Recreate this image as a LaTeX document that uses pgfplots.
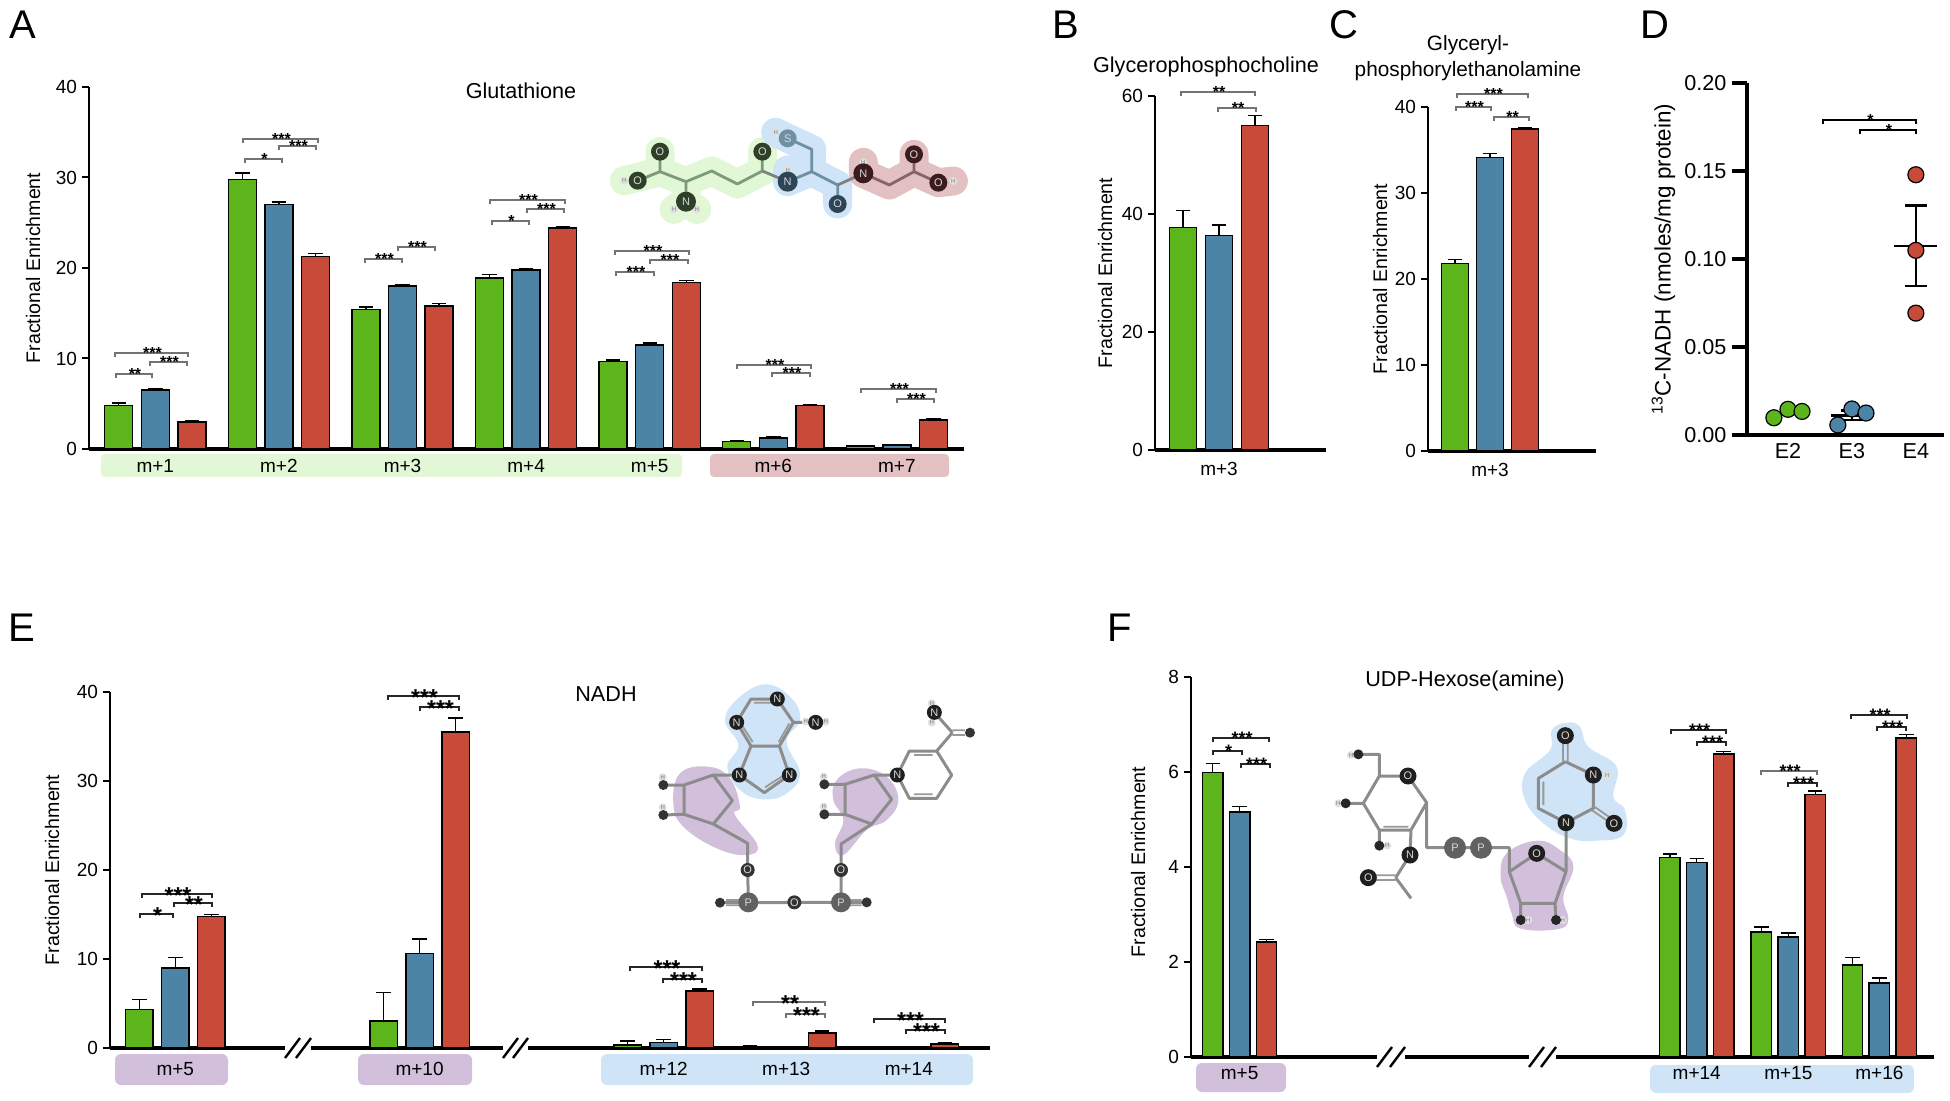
\documentclass[border=0pt]{standalone}
\usepackage{fontspec}
\setmainfont{Liberation Sans}
\usepackage{pgfplots}
\usepackage{pgfplotstable}
\pgfplotsset{compat=1.18}

\definecolor{cgreen}{HTML}{5DB51C}
\definecolor{cblue}{HTML}{4C84A6}
\definecolor{cred}{HTML}{C84A38}
\definecolor{hlgreen}{HTML}{E1F7D6}
\definecolor{hlred}{HTML}{E3C1C2}
\definecolor{hlblue}{HTML}{CFE4F7}
\definecolor{hlpurple}{HTML}{D1BFDC}
\definecolor{atgreen}{HTML}{2F4029}
\definecolor{atblue}{HTML}{2C4557}
\definecolor{atred}{HTML}{3A1C1E}
\definecolor{bdgreen}{HTML}{7C9A78}
\definecolor{bdblue}{HTML}{6F8FA3}
\definecolor{bdred}{HTML}{866468}

% one picture pixel is 0.5pt
\pgfplotsset{
  figpanel/.style n args={4}{% left, bottom, right, top in pixels
    scale only axis, anchor=south west,
    at={(#1*0.5pt,-#2*0.5pt)},
    width=#3*0.5pt-#1*0.5pt, height=#2*0.5pt-#4*0.5pt,
    xmin=#1, xmax=#3, ymin=0,
    axis x line=bottom, axis y line=left,
    axis line style={-},
    x axis line style={line width=1.7pt},
    y axis line style={line width=1.3pt},
    tick align=outside, major tick length=3.5pt,
    ytick style={black,line width=1pt},
    xtick style={draw=none},
    tick label style={font=\fontsize{9.5}{10}\selectfont,/pgf/number format/assume math mode=true},
    xticklabel style={yshift=2pt},
    yticklabel style={xshift=1pt},
    clip=false,
  },
  ylab/.style={every axis y label/.style={at={(axis description cs:0,0.5)},rotate=90,anchor=center,yshift={-(#1)*0.5pt},font=\fontsize{9.8}{11}\selectfont}},
  barstyle/.style={fill=#1,draw=black,line width=0.7pt,
    error bars/.cd,y dir=plus,y explicit,
    error bar style={black,line width=0.7pt},
    error mark options={black,line width=0.7pt,mark size=3.6pt,rotate=90}},
}

\newcommand{\threeseries}[1]{%
  \addplot[barstyle=cgreen] table[x=x,y=g,y error=ge]{#1};
  \addplot[barstyle=cblue] table[x=x,y=b,y error=be]{#1};
  \addplot[barstyle=cred] table[x=x,y=r,y error=re]{#1};
}

% significance bracket: x1, x2, y, stars
\def\starsize{8}
\newcommand{\sig}[5][sigthin]{%
  \draw[#1] (#2,#4+4) -- (#2,#4) -- (#3,#4) -- (#3,#4+4);
  \pgfmathsetmacro{\starbase}{#4+1.16*\starsize-4}
  \node[anchor=base,inner sep=0pt,font=\fontsize{\starsize}{\starsize}\selectfont\bfseries] at ({(#2+#3)/2+1},\starbase) {#5};
}
% white gap with two slashes on a broken x axis
\newcommand{\axbreak}[3]{%
  \fill[white] (#1,#3-3) rectangle (#2,#3+3);
  \draw[black,line width=1.2pt] (#1,#3+10) -- (#1+15,#3-10);
  \draw[black,line width=1.2pt] (#2-15,#3+10) -- (#2,#3-10);
}
\newcommand{\latom}[5][15]{\node[circle,fill=#5,inner sep=0pt,minimum size=#1*0.5pt,text=white!85!black,font=\fontsize{5.5}{6}\selectfont] at (#2,#3) {#4};}
\newcommand{\hyd}[2]{\node[circle,fill=black!12,inner sep=0pt,minimum size=4pt,text=black!50,font=\fontsize{3}{3}\selectfont] at (#1,#2) {H};}

% panel data, x is the pixel position of the group
\pgfplotstableread{
x g ge b be r re
155.3 4.8 0.3 6.5 0.2 3.0 0.1
278.9 29.8 0.7 27.0 0.3 21.3 0.3
402.5 15.4 0.3 18.0 0.15 15.8 0.25
526.1 18.9 0.35 19.8 0.15 24.4 0.15
649.7 9.7 0.15 11.5 0.2 18.4 0.25
773.3 0.85 0.1 1.2 0.15 4.8 0.15
896.9 0.35 0.05 0.45 0.08 3.2 0.15
}\tabA
\pgfplotstableread{
x g ge b be r re
1219 37.7 2.85 36.4 1.75 55.0 1.65
}\tabB
\pgfplotstableread{
x g ge b be r re
1490 21.8 0.45 34.1 0.5 37.45 0.1
}\tabC
\pgfplotstableread{
x g ge b be r re
175.3 4.3 1.15 9.0 1.2 14.75 0.25
419.6 3.05 3.2 10.6 1.65 35.5 1.6
663.6 0.35 0.45 0.65 0.3 6.4 0.25
786.2 0.15 0.1 0.1 0.08 1.7 0.2
908.8 0.03 0.02 0.03 0.02 0.45 0.1
}\tabE
\pgfplotstableread{
x g ge b be r re
1239.6 5.99 0.19 5.16 0.11 2.42 0.06
1696.7 4.2 0.07 4.09 0.09 6.38 0.05
1788.3 2.63 0.11 2.53 0.08 5.53 0.07
1879.4 1.94 0.16 1.56 0.1 6.72 0.07
}\tabF
\pgfplotstableread{
x y e
1 0.0112 0.0028
2 0.1076 0.0228
}\tabDmean

\begin{document}
\begin{tikzpicture}[x=0.5pt,y=-0.5pt,
  sigthin/.style={black!55,line width=0.6pt},
  sigdark/.style={black!85,line width=0.9pt},
  sigthick/.style={black,line width=1.3pt},
  bond/.style={black!45,line width=1.5pt,line join=round},
  dbl/.style={black!40,line width=0.9pt},
  title/.style={font=\fontsize{10.8}{13}\selectfont,align=center},
  letter/.style={font=\fontsize{20}{22}\selectfont,anchor=base west,inner sep=0pt}]
\useasboundingbox (0,0) rectangle (1950,1101);

% ---- group backgrounds below the axes
\fill[hlgreen,rounded corners=2pt] (101,454) rectangle (682,477);
\fill[hlred,rounded corners=2pt] (710,454) rectangle (949,477);
\fill[hlpurple,rounded corners=3pt] (115,1054) rectangle (228,1085);
\fill[hlpurple,rounded corners=3pt] (358,1054) rectangle (472,1085);
\fill[hlblue,rounded corners=3pt] (601,1054) rectangle (973,1085);
\fill[hlpurple,rounded corners=3pt] (1196,1063) rectangle (1286,1092);
\fill[hlblue,rounded corners=3pt] (1650,1065) rectangle (1914,1093);

% ---- glutathione structure
\begin{scope}[shift={(600,110)},x=0.16667pt,y=-0.16667pt]
  \begin{scope}[line width=14.5pt,line cap=round,line join=round]
    \draw[hlgreen] (73,212)--(180,185)--(258,215)--(335,183)--(412,222)--(487,183)--(487,125);
    \draw[hlgreen] (180,185)--(180,125) (258,215)--(258,275) (222,298)--(258,275)--(290,298);
    \draw[hlblue] (563,180)--(563,215)--(635,185)--(635,118)--(563,85)--(527,67);
    \draw[hlblue] (635,185)--(713,225)--(713,282);
    \draw[hlred] (790,157)--(790,190)--(868,225)--(942,185)--(942,133);
    \draw[hlred] (942,185)--(1015,218)--(1060,213);
  \end{scope}
  \begin{scope}[line width=1.4pt,line join=round]
    \draw[bdgreen] (113,212)--(180,185)--(258,215)--(335,183)--(412,222)--(487,183)--(487,125)
      (180,185)--(180,125) (258,215)--(258,275);
    \draw[gray] (487,183)--(563,215);
    \draw[bdblue] (563,215)--(635,185)--(635,118)--(563,85) (635,185)--(713,225)--(713,282);
    \draw[gray] (713,225)--(790,190);
    \draw[bdred] (790,190)--(868,225)--(942,185)--(942,133) (942,185)--(1015,218);
  \end{scope}
  \hyd{73}{212}\hyd{222}{298}\hyd{290}{298}\hyd{563}{180}\hyd{527}{67}\hyd{790}{157}\hyd{1060}{213}
  \latom[18]{113}{212}{O}{atgreen}\latom[18]{180}{125}{O}{atgreen}
  \latom[20]{258}{275}{N}{atgreen}\latom[18]{487}{125}{O}{atgreen}
  \latom[20]{563}{215}{N}{atblue}\latom[18]{713}{282}{O}{atblue}
  \latom[18]{563}{85}{S}{bdblue}
  \latom[20]{790}{190}{N}{atred}\latom[18]{942}{133}{O}{atred}
  \latom[18]{1015}{218}{O}{atred}
\end{scope}

% ---- NADH structure
\begin{scope}[shift={(640,670)},x=0.16667pt,y=-0.16667pt]
  \fill[hlblue] plot[smooth cycle,tension=0.7] coordinates {(380,43)(455,85)(480,150)(440,215)(480,310)(440,370)(370,388)(300,360)(262,290)(295,225)(255,150)(300,80)};
  \fill[hlpurple] plot[smooth cycle,tension=0.7] coordinates {(205,290)(270,325)(300,410)(285,435)(352,525)(320,555)(230,535)(130,470)(100,400)(120,310)};
  \fill[hlpurple] plot[smooth cycle,tension=0.7] coordinates {(660,295)(740,320)(775,390)(740,450)(680,480)(610,555)(585,520)(610,450)(580,390)(590,330)};
  \draw[bond] (412,87)--(333,87)--(290,157)--(333,228)--(418,228)--(460,157)--(412,87)
    (460,157)--(527,157) (333,228)--(298,315)--(373,368)--(448,315)--(418,228);
  \draw[bond] (298,315)--(220,315)--(132,345)--(132,433)--(220,462)--(277,392)--(220,315)
    (132,345)--(70,345) (132,433)--(70,435) (220,462)--(323,520)--(323,600)--(325,697)
    (240,698)--(603,697)--(680,697) (603,697)--(603,522)--(695,462)--(615,433)--(615,343)--(703,315)--(755,388)--(695,462)
    (615,343)--(553,343) (615,433)--(553,433) (703,315)--(772,315)--(808,243)--(890,243)--(935,315)--(890,385)--(808,385)--(772,315)
    (890,243)--(937,188) (937,188)--(883,127);
  \draw[dbl] (342,98)--(400,98) (302,160)--(338,216) (416,216)--(448,160) (375,352)--(428,318)
    (822,255)--(878,255) (822,373)--(878,373) (937,181)--(975,181) (937,195)--(975,195)
    (258,690)--(300,690) (258,706)--(300,706) (628,690)--(665,690) (628,706)--(665,706);
  \hyd{497}{155}\hyd{557}{155}\hyd{68}{322}\hyd{68}{412}\hyd{551}{320}\hyd{551}{410}\hyd{875}{100}\hyd{875}{158}
  \foreach \p/\q in {412/87,290/157,527/157,298/315,448/315,772/315,883/127} {\latom{\p}{\q}{N}{black!88}}
  \foreach \p/\q in {323/600,603/600,463/697} {\latom[14]{\p}{\q}{O}{black!80}}
  \foreach \p/\q in {70/345,70/435,553/343,553/433,240/698,680/697,990/188} {\latom[10]{\p}{\q}{}{black!80}}
  \foreach \p/\q in {325/697,603/697} {\latom[20]{\p}{\q}{P}{black!62}}
\end{scope}

% ---- UDP-hexose structure
\begin{scope}[shift={(1330,710)},x=0.16667pt,y=-0.16667pt]
  \fill[hlblue] plot[smooth cycle,tension=0.7] coordinates {(710,38)(750,50)(775,110)(860,170)(850,260)(885,300)(880,375)(800,392)(720,385)(640,340)(585,270)(585,190)(660,120)(665,60)};
  \fill[hlpurple] plot[smooth cycle,tension=0.7] coordinates {(620,392)(690,420)(730,470)(700,560)(715,630)(680,658)(570,655)(545,610)(530,560)(512,500)(530,430)};
  \draw[bond] (234,198)--(290,278)--(243,360)--(148,360)--(100,280)--(148,198)--(234,198)
    (148,198)--(148,133)--(85,133) (100,280)--(47,280) (148,360)--(148,407) (243,360)--(240,435)--(197,503)
    (197,503)--(243,565) (290,278)--(290,413)--(538,413)--(538,485)--(620,430)--(708,485)--(675,580)--(572,580)--(538,485)
    (572,580)--(572,630) (675,580)--(678,630) (708,485)--(708,338)--(625,295)--(625,205)--(706,155)
    (706,155)--(790,195)--(790,295)--(708,338);
  \draw[dbl] (160,350)--(235,350) (640,215)--(640,285) (115,496)--(197,496) (115,510)--(197,510)
    (699,155)--(699,77) (713,155)--(713,77) (790,288)--(855,333) (785,300)--(850,345);
  \hyd{63}{135}\hyd{25}{280}\hyd{172}{407}\hyd{595}{630}\hyd{698}{630}\hyd{832}{195}
  \foreach \p/\q in {240/435,708/338,790/195} {\latom[17]{\p}{\q}{N}{black!88}}
  \foreach \p/\q in {234/198,115/503,620/430,706/77,852/340} {\latom[17]{\p}{\q}{O}{black!88}}
  \foreach \p/\q in {85/133,47/280,148/407,572/630,678/630} {\latom[10]{\p}{\q}{}{black!85}}
  \foreach \p/\q in {375/413,453/413} {\latom[22]{\p}{\q}{P}{black!62}}
\end{scope}

% ---- A
\begin{axis}[figpanel={89}{449}{964}{87},ymax=40,ytick={0,10,20,30,40},
  ybar=4.3pt,bar width=14pt,
  xtick={155.3,278.9,402.5,526.1,649.7,773.3,896.9},
  xticklabels={m+1,m+2,m+3,m+4,m+5,m+6,m+7},
  ylab=-56,ylabel={Fractional Enrichment}]
  \threeseries{\tabA}
\end{axis}
% ---- B
\begin{axis}[figpanel={1155}{450}{1326}{96},ymax=60,ytick={0,20,40,60},
  ybar=4.5pt,bar width=13.5pt,
  xtick={1219},xticklabels={m+3},
  xticklabel style={yshift=-0.9pt},
  ylab=-50,ylabel={Fractional Enrichment}]
  \threeseries{\tabB}
\end{axis}
% ---- C
\begin{axis}[figpanel={1428}{451}{1596}{107},ymax=40,ytick={0,10,20,30,40},
  ybar=4.2pt,bar width=13.3pt,
  xtick={1490},xticklabels={m+3},
  xticklabel style={yshift=-0.9pt},
  ylab=-48,ylabel={Fractional Enrichment}]
  \threeseries{\tabC}
\end{axis}
% ---- D
\begin{axis}[figpanel={1746.5}{435}{1944}{83.3},xmin=-0.648,xmax=2.44,ymax=0.2,
  ytick={0,0.05,0.10,0.15,0.20},
  xtick={0,1,2},xticklabels={E2,E3,E4},
  x axis line style={line width=2pt},y axis line style={line width=2pt},
  major tick length=7.5pt,ytick style={black,line width=2pt},
  tick label style={font=\fontsize{10.8}{12}\selectfont,/pgf/number format/assume math mode=true,
    /pgf/number format/fixed,/pgf/number format/fixed zerofill,/pgf/number format/precision=2},
  xticklabel style={yshift=4.6pt},
  ylab=-83,ylabel={\fontsize{11.2}{13}\selectfont\textsuperscript{13}C-NADH (nmoles/mg protein)}]
  \addplot[only marks,mark=-,mark size=10.7pt,black,mark options={line width=1.2pt},
    error bars/.cd,y dir=both,y explicit,error bar style={black,line width=1.2pt},
    error mark options={black,line width=1.2pt,mark size=5.5pt,rotate=90}]
    table[x=x,y=y,y error=e]{\tabDmean};
  \addplot[only marks,mark=*,mark size=4pt,mark options={fill=cgreen,draw=black,line width=0.6pt}]
    coordinates {(-0.22,0.0098)(0,0.0146)(0.22,0.0134)};
  \addplot[only marks,mark=*,mark size=4pt,mark options={fill=cblue,draw=black,line width=0.6pt}]
    coordinates {(0.78,0.0057)(1,0.0148)(1.22,0.0125)};
  \addplot[only marks,mark=*,mark size=4pt,mark options={fill=cred,draw=black,line width=0.6pt}]
    coordinates {(2,0.148)(2,0.105)(2,0.0693)};
\end{axis}
% ---- E
\begin{axis}[figpanel={110}{1048}{990}{692},ymax=40,ytick={0,10,20,30,40},
  ybar=4.25pt,bar width=13.75pt,
  xtick={175.3,419.6,663.6,786.2,908.8},xticklabels={m+5,m+10,m+12,m+13,m+14},
  xticklabel style={yshift=-2.3pt},
  ylab=-58,ylabel={Fractional Enrichment}]
  \threeseries{\tabE}
\end{axis}
% ---- F
\begin{axis}[figpanel={1191}{1057}{1934}{677},ymax=8,ytick={0,2,4,6,8},
  ybar=3.2pt,bar width=10.25pt,
  xtick={1239.6,1696.7,1788.3,1879.4},xticklabels={m+5,m+14,m+15,m+16},
  xticklabel style={yshift=0.5pt},
  ylab=-53,ylabel={Fractional Enrichment},
  ylabel style={xshift=2.5pt}]
  \threeseries{\tabF}
\end{axis}

% ---- axis breaks
\axbreak{285}{311}{1048}
\axbreak{503}{528}{1048}
\axbreak{1377}{1405}{1057}
\axbreak{1529}{1556}{1057}

% ---- brackets
\sig{115}{188}{353}{***}\sig{150}{187}{362}{***}\sig{116}{152}{374}{**}
\sig{243}{318}{139}{***}\sig{279}{316}{146}{***}\sig{245}{282}{159}{*}
\sig{365}{402}{259}{***}\sig{398}{435}{247}{***}
\sig{490}{565}{200}{***}\sig{527}{564}{209}{***}\sig{492}{529}{221}{*}
\sig{615}{689}{251}{***}\sig{650}{688}{260}{***}\sig{616}{654}{272}{***}
\sig{737}{811}{365}{***}\sig{772}{810}{373}{***}
\sig{861}{936}{389}{***}\sig{897}{934}{399}{***}
\sig{1181}{1255}{92}{**}\sig{1218}{1256}{108}{**}
\sig{1457}{1528}{94}{***}\sig{1456}{1491}{107}{***}\sig{1494}{1529}{117}{**}
\sig[sigthick]{1823}{1916}{120}{*}\sig[sigthick]{1860}{1916}{130}{*}
\def\starsize{11.5}
\sig[sigdark]{142}{212}{894}{***}\sig[sigdark]{174}{212}{903}{**}\sig[sigdark]{140}{173}{914}{*}
\sig[sigdark]{388}{459}{696}{***}\sig[sigdark]{420}{459}{707}{***}
\sig[sigdark]{630}{702}{967}{***}\sig[sigdark]{663}{702}{979}{***}
\sig{753}{825}{1002}{**}\sig{786}{825}{1014}{***}
\sig[sigdark]{874}{945}{1019}{***}\sig[sigdark]{906}{945}{1030}{***}
\def\starsize{9}
\sig[sigdark]{1213}{1269}{738}{***}\sig[sigdark]{1213}{1242}{751}{*}\sig[sigdark]{1241}{1270}{764}{***}
\sig[sigdark]{1671}{1726}{730}{***}\sig[sigdark]{1697}{1726}{742}{***}
\sig{1761}{1817}{771}{***}\sig[sigdark]{1788}{1817}{783}{***}
\sig[sigdark]{1851}{1907}{715}{***}\sig[sigdark]{1877}{1906}{727}{***}

% ---- titles and panel letters
\node[title] at (521,91) {Glutathione};
\node[title] at (1206,67) {Glycerophosphocholine};
\node[title,font=\fontsize{10.4}{13}\selectfont] at (1468,58) {Glyceryl-\\phosphorylethanolamine};
\node[title] at (606,694) {NADH};
\node[title] at (1465,681) {UDP-Hexose(amine)};
\node[letter] at (9,39) {A};
\node[letter] at (1052,39) {B};
\node[letter] at (1329,39) {C};
\node[letter] at (1640,39) {D};
\node[letter] at (8,641) {E};
\node[letter] at (1107,641) {F};
\end{tikzpicture}
\end{document}
